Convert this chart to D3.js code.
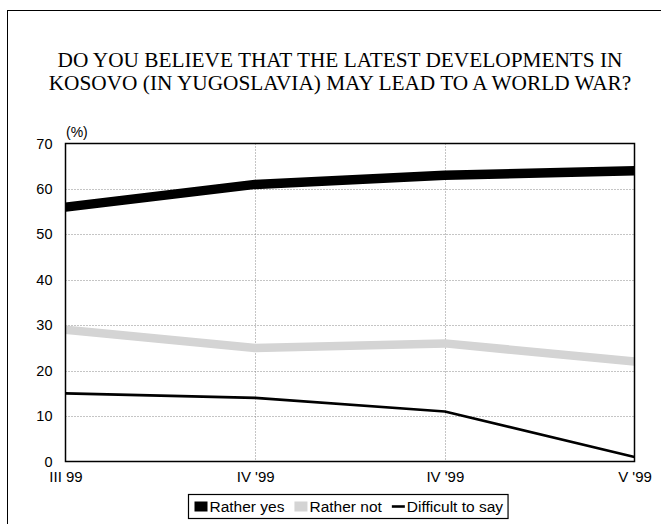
<!DOCTYPE html>
<html>
<head>
<meta charset="utf-8">
<script src="https://cdn.jsdelivr.net/npm/d3@7"></script>
<style>
  html, body { margin: 0; padding: 0; background: #fff; }
  svg { display: block; }
</style>
</head>
<body>
<svg id="chart" width="661" height="524"></svg>
<script>
// Survey waves (x axis)
const categories = ["III 99", "IV '99", "IV '99", "V '99"];
// Answer shares, in percent
const ratherYes = [56, 61, 63, 64];
const ratherNot = [29, 25, 26, 22];
const difficult = [15, 14, 11, 1];
const yTicks = [0, 10, 20, 30, 40, 50, 60, 70];
const seriesNames = ["Rather yes", "Rather not", "Difficult to say"];

const series = [
  { name: seriesNames[0], values: ratherYes, color: "#000", width: 9.5 },
  { name: seriesNames[1], values: ratherNot, color: "#d4d4d4", width: 8.5 },
  { name: seriesNames[2], values: difficult, color: "#000", width: 2.6 }
];

const svg = d3.select("#chart");
const plot = { left: 65.5, right: 634.5, top: 143.5, bottom: 461.5 };
const sans = "'Liberation Sans', Arial, sans-serif";

// Outer frame (runs off the right and bottom edges)
svg.append("rect")
  .attr("x", 7.5).attr("y", 10.5)
  .attr("width", 700).attr("height", 600)
  .attr("fill", "none").attr("stroke", "#000").attr("stroke-width", 1);

// Title
const title = svg.append("text")
  .attr("text-anchor", "middle")
  .attr("font-family", "'Liberation Serif', 'Times New Roman', serif")
  .attr("font-size", 21.3)
  .attr("fill", "#000");
title.append("tspan").attr("x", 340).attr("y", 67)
  .text("DO YOU BELIEVE THAT THE LATEST DEVELOPMENTS IN");
title.append("tspan").attr("x", 340).attr("y", 90)
  .text("KOSOVO (IN YUGOSLAVIA) MAY LEAD TO A WORLD WAR?");

const x = d3.scalePoint()
  .domain(d3.range(categories.length))
  .range([plot.left, plot.right]);
const y = d3.scaleLinear()
  .domain([0, 70])
  .range([plot.bottom, plot.top]);

// Horizontal grid
svg.append("g")
  .selectAll("line")
  .data(yTicks.filter(t => t > 0 && t < 70))
  .join("line")
  .attr("x1", plot.left).attr("x2", plot.right)
  .attr("y1", d => Math.round(y(d)) + 0.5).attr("y2", d => Math.round(y(d)) + 0.5)
  .attr("stroke", "#8a8a8a").attr("stroke-width", 1)
  .attr("stroke-dasharray", "1,2");

// Vertical grid at inner categories
svg.append("g")
  .selectAll("line")
  .data(d3.range(1, categories.length - 1))
  .join("line")
  .attr("x1", d => Math.round(x(d)) + 0.5).attr("x2", d => Math.round(x(d)) + 0.5)
  .attr("y1", plot.top).attr("y2", plot.bottom)
  .attr("stroke", "#8a8a8a").attr("stroke-width", 1)
  .attr("stroke-dasharray", "1,2");

// Y axis labels
const gy = svg.append("g")
  .attr("transform", `translate(${plot.left},0)`)
  .call(d3.axisLeft(y).tickValues(yTicks).tickSize(0).tickPadding(13));
gy.select(".domain").remove();
gy.selectAll("text")
  .attr("font-family", sans).attr("font-size", 14.5).attr("fill", "#000");

// X axis labels
const gx = svg.append("g")
  .attr("transform", `translate(0,${plot.bottom})`)
  .call(d3.axisBottom(x).tickFormat(i => categories[i]).tickSize(0).tickPadding(10));
gx.select(".domain").remove();
gx.selectAll("text")
  .attr("font-family", sans).attr("font-size", 15).attr("fill", "#000");

// Unit label
svg.append("text")
  .attr("x", 66).attr("y", 137)
  .attr("font-family", sans).attr("font-size", 14)
  .text("(%)");

// Series lines
const line = d3.line()
  .x((d, i) => x(i))
  .y(d => y(d));

svg.append("clipPath").attr("id", "plotclip")
  .append("rect")
  .attr("x", plot.left).attr("y", plot.top - 10)
  .attr("width", plot.right - plot.left).attr("height", plot.bottom - plot.top + 10);

svg.append("g").attr("clip-path", "url(#plotclip)")
  .selectAll("path")
  .data(series)
  .join("path")
  .attr("d", d => line(d.values))
  .attr("fill", "none")
  .attr("stroke", d => d.color)
  .attr("stroke-width", d => d.width)
  .attr("stroke-linejoin", "round");

// Plot frame
svg.append("rect")
  .attr("x", plot.left).attr("y", plot.top)
  .attr("width", plot.right - plot.left).attr("height", plot.bottom - plot.top)
  .attr("fill", "none").attr("stroke", "#000").attr("stroke-width", 1.5);

// Legend
const legend = svg.append("g");
const lg = { x: 188.5, y: 494.5, h: 24, pad: 6, sw: 13, gap: 10 };
let cx = lg.x + lg.pad;
series.forEach((s, i) => {
  const item = legend.append("g");
  if (i < 2) {
    item.append("rect")
      .attr("x", cx).attr("y", lg.y + 7)
      .attr("width", lg.sw).attr("height", 10)
      .attr("fill", s.color);
  } else {
    item.append("line")
      .attr("x1", cx).attr("x2", cx + lg.sw)
      .attr("y1", lg.y + 12).attr("y2", lg.y + 12)
      .attr("stroke", s.color).attr("stroke-width", 2.6);
  }
  const t = item.append("text")
    .attr("x", cx + lg.sw + 2).attr("y", lg.y + 17.5)
    .attr("font-family", sans).attr("font-size", 15.5)
    .text(s.name);
  cx += lg.sw + 2 + t.node().getComputedTextLength() + lg.gap;
});
legend.insert("rect", ":first-child")
  .attr("x", lg.x).attr("y", lg.y)
  .attr("width", cx - lg.gap + 5 - lg.x).attr("height", lg.h)
  .attr("fill", "#fff").attr("stroke", "#000").attr("stroke-width", 1.2);
</script>
</body>
</html>
